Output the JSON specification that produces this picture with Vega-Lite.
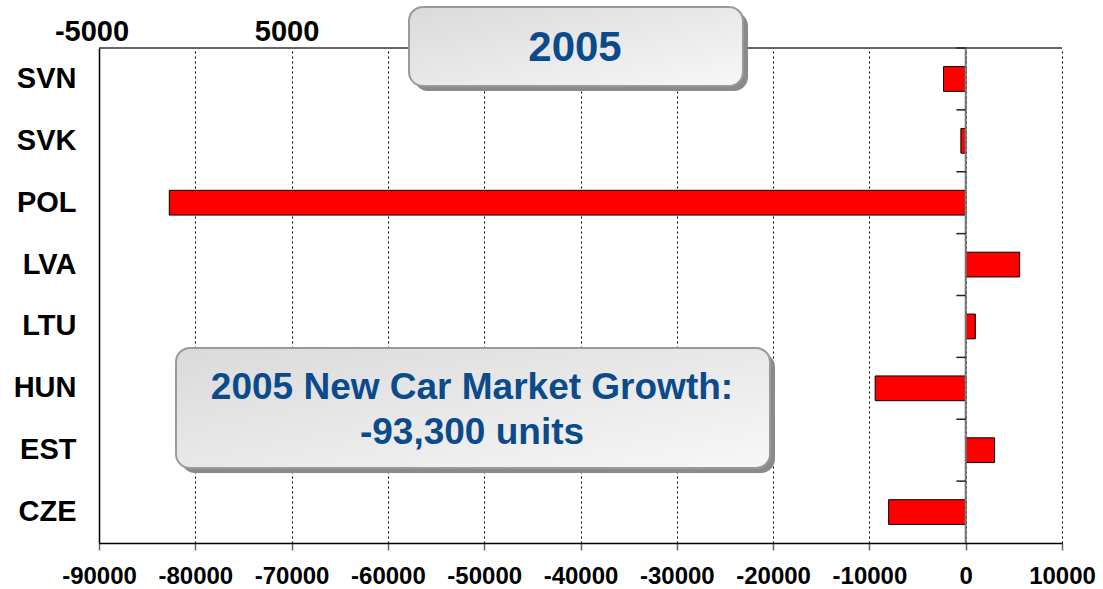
{
  "$schema": "https://vega.github.io/schema/vega-lite/v6.json",
  "width": 963,
  "height": 495,
  "autosize": {"type": "none"},
  "padding": {"left": 99, "top": 48, "right": 41, "bottom": 46},
  "background": "white",
  "config": {"view": {"stroke": null}, "font": "Liberation Sans"},
  "datasets": {
    "growth": [
      {"country": "SVN", "growth": -2300},
      {"country": "SVK", "growth": -500},
      {"country": "POL", "growth": -82700},
      {"country": "LVA", "growth": 5600},
      {"country": "LTU", "growth": 1000},
      {"country": "HUN", "growth": -9400},
      {"country": "EST", "growth": 3000},
      {"country": "CZE", "growth": -8000}
    ],
    "bounds": [{"b": 1}, {"b": 2}, {"b": 3}, {"b": 4}, {"b": 5}, {"b": 6}, {"b": 7}, {"b": 8}],
    "one": [{}]
  },
  "layer": [
    {
      "data": {"name": "growth"},
      "mark": {"type": "bar", "color": "#ff0000", "stroke": "#000000", "strokeWidth": 1},
      "encoding": {
        "y": {
          "field": "country", "type": "nominal", "sort": null,
          "scale": {"paddingInner": 0.6, "paddingOuter": 0.3},
          "axis": {"title": null, "ticks": false, "tickSize": 0, "labelPadding": 23, "labelFontSize": 29, "labelFontWeight": "bold", "labelColor": "#000000", "domainColor": "#000000", "domainWidth": 1.5, "grid": false}
        },
        "x": {
          "field": "growth", "type": "quantitative",
          "scale": {"domain": [-90000, 10000], "nice": false, "zero": false},
          "axis": {"title": null, "values": [-90000, -80000, -70000, -60000, -50000, -40000, -30000, -20000, -10000, 0, 10000], "labelExpr": "datum.value + ''", "labelOverlap": false, "labelBound": false, "labelFlush": false, "grid": true, "gridColor": "#000000", "gridDash": [2, 3], "gridWidth": 1, "domainColor": "#000000", "domainWidth": 1.5, "tickColor": "#666666", "tickSize": 7, "tickWidth": 1.5, "labelFontSize": 24, "labelFontWeight": "bold", "labelColor": "#000000", "labelPadding": 14}
        }
      }
    },
    {
      "layer": [
        {
          "data": {"name": "one"},
          "mark": {"type": "rule", "color": "#333333", "strokeWidth": 1.5},
          "encoding": {
            "y": {"datum": 8, "type": "quantitative", "scale": {"domain": [0, 8], "nice": false, "zero": false}, "axis": null}
          }
        },
        {
          "data": {"name": "one"},
          "mark": {"type": "rule", "color": "#777777", "strokeWidth": 2},
          "encoding": {"x": {"datum": 0, "type": "quantitative"}}
        },
        {
          "data": {"name": "bounds"},
          "mark": {"type": "rule", "color": "#222222", "strokeWidth": 1.5},
          "encoding": {
            "y": {"field": "b", "type": "quantitative", "axis": null},
            "x": {"datum": -970, "type": "quantitative"},
            "x2": {"datum": 0}
          }
        },
        {
          "data": {"name": "one"},
          "mark": {"type": "rect", "color": "#8a8a8a", "cornerRadius": 14, "xOffset": 5, "x2Offset": 5, "yOffset": 5, "y2Offset": 5},
          "encoding": {
            "x": {"datum": -57809, "type": "quantitative"}, "x2": {"datum": -23126},
            "y": {"datum": 8.663, "type": "quantitative", "axis": null}, "y2": {"datum": 7.386}
          }
        },
        {
          "data": {"name": "one"},
          "mark": {"type": "rect", "cornerRadius": 14, "stroke": "#9a9a9a", "strokeWidth": 2,
            "fill": {"gradient": "linear", "x1": 0, "y1": 0, "x2": 1, "y2": 1, "stops": [{"offset": 0, "color": "#dadada"}, {"offset": 1, "color": "#f7f7f7"}]}},
          "encoding": {
            "x": {"datum": -57809, "type": "quantitative"}, "x2": {"datum": -23126},
            "y": {"datum": 8.663, "type": "quantitative", "axis": null}, "y2": {"datum": 7.386}
          }
        },
        {
          "data": {"name": "one"},
          "mark": {"type": "rect", "color": "#8a8a8a", "cornerRadius": 14, "xOffset": 5, "x2Offset": 5, "yOffset": 5, "y2Offset": 5},
          "encoding": {
            "x": {"datum": -82004, "type": "quantitative"}, "x2": {"datum": -20322},
            "y": {"datum": 3.152, "type": "quantitative", "axis": null}, "y2": {"datum": 1.212}
          }
        },
        {
          "data": {"name": "one"},
          "mark": {"type": "rect", "cornerRadius": 14, "stroke": "#9a9a9a", "strokeWidth": 2,
            "fill": {"gradient": "linear", "x1": 0, "y1": 0, "x2": 1, "y2": 1, "stops": [{"offset": 0, "color": "#dadada"}, {"offset": 1, "color": "#f7f7f7"}]}},
          "encoding": {
            "x": {"datum": -82004, "type": "quantitative"}, "x2": {"datum": -20322},
            "y": {"datum": 3.152, "type": "quantitative", "axis": null}, "y2": {"datum": 1.212}
          }
        },
        {
          "data": {"name": "one"},
          "mark": {"type": "text", "text": "2005", "fontSize": 42, "fontWeight": "bold", "color": "#0b4a8b", "align": "center", "baseline": "middle"},
          "encoding": {
            "x": {"datum": -40571, "type": "quantitative"},
            "y": {"datum": 8.0, "type": "quantitative", "axis": null}
          }
        },
        {
          "data": {"name": "one"},
          "mark": {"type": "text", "text": "2005 New Car Market Growth:", "fontSize": 37, "fontWeight": "bold", "color": "#0b4a8b", "align": "center", "baseline": "middle"},
          "encoding": {
            "x": {"datum": -51267, "type": "quantitative"},
            "y": {"datum": 2.505, "type": "quantitative", "axis": null}
          }
        },
        {
          "data": {"name": "one"},
          "mark": {"type": "text", "text": "-93,300 units", "fontSize": 37, "fontWeight": "bold", "color": "#0b4a8b", "align": "center", "baseline": "middle"},
          "encoding": {
            "x": {"datum": -51267, "type": "quantitative"},
            "y": {"datum": 1.778, "type": "quantitative", "axis": null}
          }
        },
        {
          "data": {"name": "one"},
          "mark": {"type": "text", "text": "-5000", "fontSize": 29, "fontWeight": "bold", "color": "#000000", "align": "center", "baseline": "middle"},
          "encoding": {
            "x": {"datum": -90727, "type": "quantitative"},
            "y": {"datum": 8.26, "type": "quantitative", "axis": null}
          }
        },
        {
          "data": {"name": "one"},
          "mark": {"type": "text", "text": "5000", "fontSize": 29, "fontWeight": "bold", "color": "#000000", "align": "center", "baseline": "middle"},
          "encoding": {
            "x": {"datum": -70478, "type": "quantitative"},
            "y": {"datum": 8.26, "type": "quantitative", "axis": null}
          }
        }
      ]
    }
  ],
  "resolve": {"scale": {"y": "independent"}}
}
